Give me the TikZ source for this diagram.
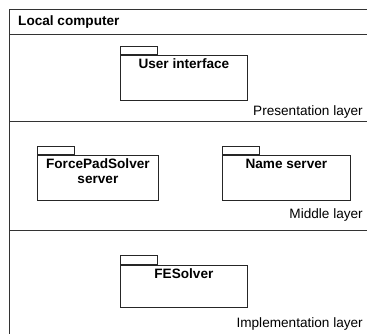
\documentclass[tikz,border=0pt]{standalone}
\usepackage{fontspec}
\setmainfont{Liberation Sans}
\begin{document}
\begin{tikzpicture}[x=1pt,y=-1pt,
  frameline/.style={draw=black!80, line width=0.9pt},
  pkgbody/.style={draw=black!85, line width=0.8pt, rectangle, inner sep=0pt, anchor=north west},
  pkgtab/.style={draw=black!85, line width=0.8pt, rectangle, inner sep=0pt, anchor=south west, minimum width=37pt, minimum height=8.5pt},
  pkgname/.style={font=\fontsize{13.6}{15}\selectfont\bfseries, align=center, inner sep=0pt, anchor=north},
  layerlabel/.style={font=\fontsize{13.6}{15}\selectfont, inner sep=0pt, anchor=east}]
\useasboundingbox (0,0) rectangle (367,334);
% frame
\coordinate (ftl) at (9,9);
\coordinate (fbr) at (380,345);
\draw[frameline] (ftl) rectangle (fbr);
\coordinate (h1l) at (9,34);   \coordinate (h1r) at (380,34);
\coordinate (h2l) at (9,121.5); \coordinate (h2r) at (380,121.5);
\coordinate (h3l) at (9,230);  \coordinate (h3r) at (380,230);
\draw[frameline] (h1l) -- (h1r);
\draw[frameline] (h2l) -- (h2r);
\draw[frameline] (h3l) -- (h3r);
\node[font=\fontsize{13.6}{15}\selectfont\bfseries, anchor=west, inner sep=0pt] (title) at (18,22) {Local computer};
% presentation layer
\node[pkgbody, minimum width=127pt, minimum height=45pt] (ui) at (120,55) {};
\node[pkgtab] (uitab) at (ui.north west) {};
\node[pkgname] (uiname) at ([yshift=-3.5pt]ui.north) {User interface};
\node[layerlabel] (pres) at (363,112) {Presentation layer};
% middle layer
\node[pkgbody, minimum width=121pt, minimum height=45pt] (fp) at (37,155) {};
\node[pkgtab] (fptab) at (fp.north west) {};
\node[pkgname] (fpname) at ([yshift=-3.5pt]fp.north) {ForcePadSolver\\server};
\node[pkgbody, minimum width=128pt, minimum height=45pt] (ns) at (222,155) {};
\node[pkgtab] (nstab) at (ns.north west) {};
\node[pkgname] (nsname) at ([yshift=-3.5pt]ns.north) {Name server};
\node[layerlabel] (mid) at (363,215) {Middle layer};
% implementation layer
\node[pkgbody, minimum width=127pt, minimum height=42pt] (fe) at (120,265) {};
\node[pkgtab, minimum height=9.5pt] (fetab) at (fe.north west) {};
\node[pkgname] (fename) at ([yshift=-3.5pt]fe.north) {FESolver};
\node[layerlabel] (impl) at (363,324) {Implementation layer};
\end{tikzpicture}
\end{document}
